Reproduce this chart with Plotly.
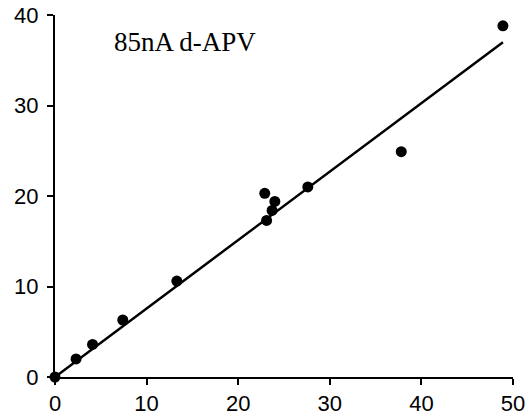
import plotly.graph_objects as go

# Data points
x_vals = [0, 2.3, 4.1, 7.4, 13.3, 22.9, 24.0, 23.7, 23.1, 27.6, 37.8, 48.9]
y_vals = [0, 2.0, 3.6, 6.3, 10.6, 20.3, 19.4, 18.4, 17.3, 21.0, 24.9, 38.8]

# Regression line end points
line_x = [0, 48.9]
line_y = [0, 37.0]

x_ticks = [0, 10, 20, 30, 40, 50]
y_ticks = [0, 10, 20, 30, 40]

label_text = "85nA d-APV"

fig = go.Figure()
fig.add_trace(go.Scatter(x=line_x, y=line_y, mode="lines",
                         line=dict(color="black", width=2.5),
                         showlegend=False, cliponaxis=False))
fig.add_trace(go.Scatter(x=x_vals, y=y_vals, mode="markers",
                         marker=dict(color="black", size=11),
                         showlegend=False, cliponaxis=False))

fig.add_annotation(x=6.2, y=37.0, xref="x", yref="y", text=label_text,
                   showarrow=False, xanchor="left", yanchor="middle",
                   font=dict(family="Liberation Serif", size=27, color="black"))

fig.update_xaxes(range=[0, 50], tickvals=x_ticks, ticks="outside", ticklen=6,
                 tickwidth=1.5, tickcolor="black", showline=True, linecolor="black",
                 linewidth=2, showgrid=False, zeroline=False, automargin=False,
                 tickfont=dict(family="Liberation Sans", size=22, color="black"))
fig.update_yaxes(range=[0, 40], tickvals=y_ticks, ticks="outside", ticklen=6,
                 tickwidth=1.5, tickcolor="black", showline=True, linecolor="black",
                 linewidth=2, showgrid=False, zeroline=False, automargin=False,
                 ticklabelstandoff=4,
                 tickfont=dict(family="Liberation Sans", size=22, color="black"))

fig.update_layout(width=527, height=420, margin=dict(l=55, r=14, t=15, b=43),
                  paper_bgcolor="white", plot_bgcolor="white")

fig.write_html("out.html")
